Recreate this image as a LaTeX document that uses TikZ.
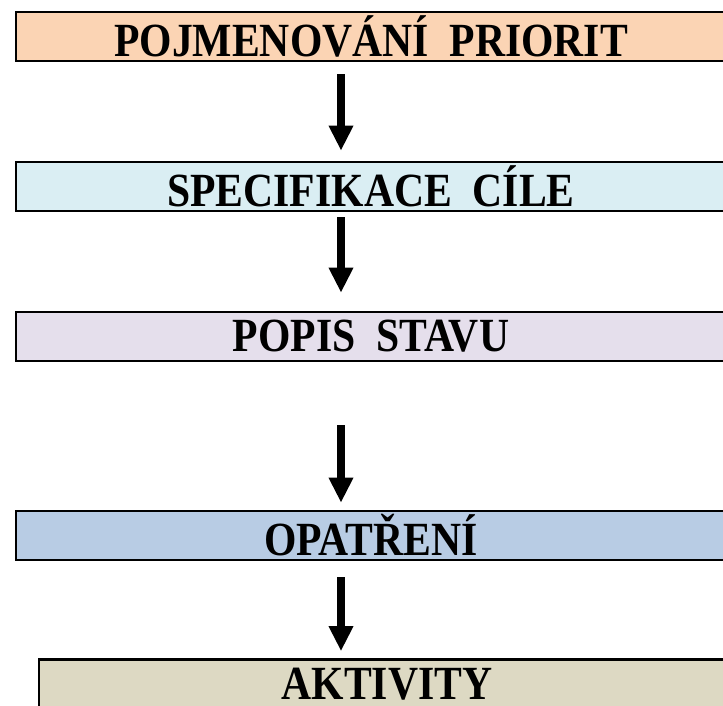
\documentclass[tikz,border=0pt]{standalone}
\usepackage{fontspec}
\setmainfont{Liberation Serif}
\usetikzlibrary{arrows.meta}
\definecolor{cPeach}{HTML}{FBD4B4}
\definecolor{cCyan}{HTML}{DAEEF3}
\definecolor{cLav}{HTML}{E5DFEC}
\definecolor{cBlue}{HTML}{B8CCE4}
\definecolor{cTan}{HTML}{DDD9C3}
\tikzset{
  bar/.style={draw=black, line width=2.6pt, minimum height=49pt, inner sep=0pt,
    font=\fontsize{42.5}{50}\bfseries\selectfont},
  arr/.style={line width=8pt, -{Triangle[width=23pt,length=25pt]}}
}
\newcommand{\tall}[1]{\scalebox{0.98}[1.12]{#1}}
\begin{document}
\begin{tikzpicture}[x=1pt,y=-1pt]
\useasboundingbox (0,0) rectangle (723,706);
\node[bar, fill=cPeach, minimum width=710pt] (b1) at (371,36.5) {\tall{POJMENOVÁNÍ~~PRIORIT}};
\node[bar, fill=cCyan, minimum width=710pt] (b2) at (371,186.5) {\tall{SPECIFIKACE~~CÍLE}};
\node[bar, fill=cLav, minimum width=710pt] (b3) at (371,336.5) {\tall{POPIS~~STAVU}};
\node[bar, fill=cBlue, minimum width=710pt] (b4) at (371,535.5) {\tall{OPATŘENÍ}};
\node[bar, fill=cTan, minimum width=696pt] (b5) at (387,684) {\tall{AKTIVITY}};
\coordinate (ax) at (341,0);
\draw[arr, shorten <=12pt, shorten >=10pt] (b1.south -| ax) -- (b2.north -| ax);
\draw[arr, shorten <=5pt, shorten >=18pt] (b2.south -| ax) -- (b3.north -| ax);
\draw[arr, shorten <=63pt, shorten >=7pt] (b3.south -| ax) -- (b4.north -| ax);
\draw[arr, shorten <=16pt, shorten >=7pt] (b4.south -| ax) -- (b5.north -| ax);
\end{tikzpicture}
\end{document}
